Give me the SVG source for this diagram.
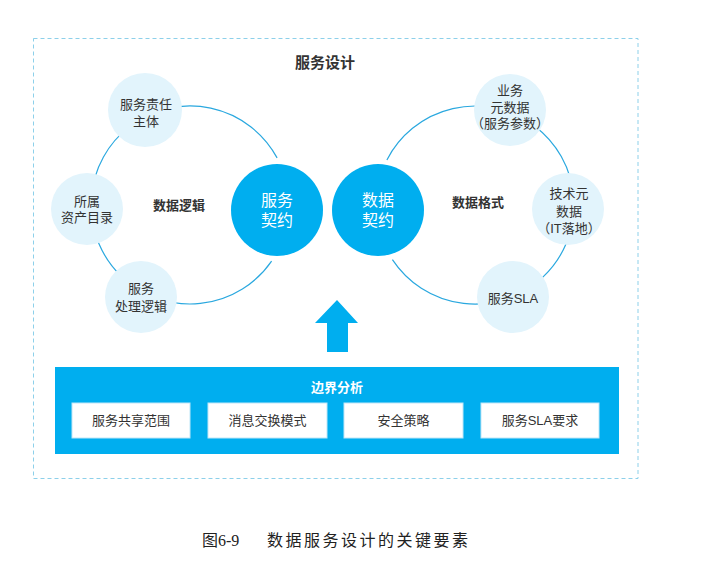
<svg xmlns="http://www.w3.org/2000/svg" width="725" height="573" viewBox="0 0 725 573">
<style>
text{font-family:"Liberation Sans","Noto Sans CJK SC",sans-serif;fill:#333;text-anchor:middle}
.t13{font-size:13px}
.b{font-weight:bold}
.w{fill:#fff}
.big{fill:#00aeef}
.light{fill:#e2f4fc}
.ring{fill:none;stroke:#2aa8df;stroke-width:1.2}
.box{fill:#fff;stroke:#bfe6f7;stroke-width:1}
.cap{font-family:"Liberation Serif","Noto Sans CJK SC",serif;font-size:16px;fill:#222;text-anchor:start}
</style>
<rect width="725" height="573" fill="#fff"/>
<rect id="frame" x="33.5" y="38.5" width="604.5" height="440" fill="none" stroke="#8dd0ea" stroke-width="1" stroke-dasharray="4 3"/>
<text id="title" class="b" x="325" y="67.5" style="font-size:15px">服务设计</text>
<g id="connectors">
<path class="ring" d="M271.6 261.1 A99 99 0 1 1 277.1 157.9"/>
<path class="ring" d="M386.9 159.9 A99 99 0 1 1 392.4 259.6"/>
</g>
<g id="node-fwzrzt"><circle class="light" cx="145" cy="110" r="37"/><text class="t13" x="146" y="108.5">服务责任</text><text class="t13" x="146" y="125.5">主体</text></g>
<g id="node-sszcml"><circle class="light" cx="87" cy="209" r="36"/><text class="t13" x="87" y="205.5">所属</text><text class="t13" x="87" y="222">资产目录</text></g>
<g id="node-fwclljl"><circle class="light" cx="141" cy="297" r="36"/><text class="t13" x="141" y="293">服务</text><text class="t13" x="141" y="311">处理逻辑</text></g>
<g id="node-fwqy"><circle class="big" cx="277" cy="210" r="46"/><text class="w" x="277" y="206" style="font-size:16px">服务</text><text class="w" x="277" y="226" style="font-size:16px">契约</text></g>
<g id="node-sjqy"><circle class="big" cx="378" cy="210" r="46"/><text class="w" x="378" y="206" style="font-size:16px">数据</text><text class="w" x="378" y="226" style="font-size:16px">契约</text></g>
<g id="node-ywysj"><circle class="light" cx="510" cy="110" r="36"/><text class="t13" x="510" y="94.5">业务</text><text class="t13" x="510" y="111.5">元数据</text><text class="t13" x="510" y="127.5">（服务参数）</text></g>
<g id="node-jsysj"><circle class="light" cx="568" cy="209" r="36"/><text class="t13" x="569" y="197.5">技术元</text><text class="t13" x="569" y="215.5">数据</text><text class="t13" x="569" y="232.5">（IT落地）</text></g>
<g id="node-fwsla"><circle class="light" cx="513" cy="297" r="36"/><text class="t13" x="513" y="302.5">服务SLA</text></g>
<text id="label-sjlj" class="t13 b" x="179" y="209.5">数据逻辑</text>
<text id="label-sjgs" class="t13 b" x="478" y="206.5">数据格式</text>
<path id="arrow" class="big" d="M337 300 L358 323 L348 323 L348 352 L327 352 L327 323 L315 323 Z"/>
<g id="node-bjfx">
<rect x="55" y="367" width="564" height="87" fill="#00aeef"/>
<text class="t13 b w" x="337" y="391.5">边界分析</text>
<rect class="box" x="72" y="403" width="118" height="35"/><text class="t13" x="131" y="425">服务共享范围</text>
<rect class="box" x="208" y="403" width="119" height="35"/><text class="t13" x="267.5" y="425">消息交换模式</text>
<rect class="box" x="344" y="403" width="119" height="35"/><text class="t13" x="403.5" y="425">安全策略</text>
<rect class="box" x="481" y="403" width="118" height="35"/><text class="t13" x="540" y="425">服务SLA要求</text>
</g>
<text id="caption" class="cap" x="202" y="546">图6-9<tspan x="267" style="letter-spacing:2.5px">数据服务设计的关键要素</tspan></text>
</svg>
